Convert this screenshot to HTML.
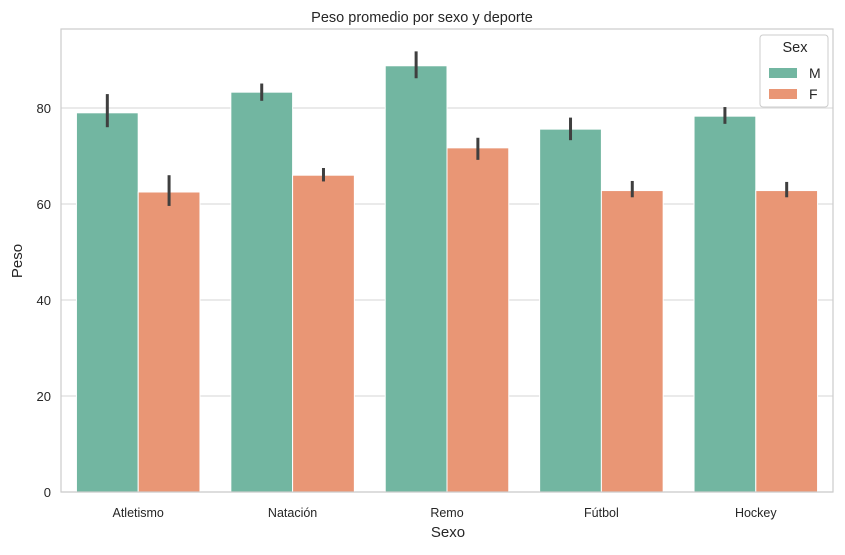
<!DOCTYPE html>
<html><head><meta charset="utf-8"><style>
body{margin:0;background:#fff;font-family:"Liberation Sans","DejaVu Sans",sans-serif}
</style></head><body>
<svg id="chart" width="845" height="550" xmlns="http://www.w3.org/2000/svg" font-family="Liberation Sans, DejaVu Sans, sans-serif">
<rect width="845" height="550" fill="#fff"/>
<g id="grid"></g>
<g id="bars"></g>
<rect x="61" y="29" width="772" height="463" fill="none" stroke="#cccccc" stroke-width="1.2"/>
<g id="labels"></g>
<text x="422" y="22" text-anchor="middle" font-size="14.5" fill="#262626">Peso promedio por sexo y deporte</text>
<text x="448" y="537" text-anchor="middle" font-size="15" fill="#262626">Sexo</text>
<text x="22" y="261" text-anchor="middle" font-size="15" fill="#262626" transform="rotate(-90 22 261)">Peso</text>
<g>
<rect x="760" y="35" width="68" height="72" rx="3" fill="#fff" fill-opacity="0.8" stroke="#cccccc"/>
<text x="795" y="52" text-anchor="middle" font-size="14.5" fill="#262626">Sex</text>
<g><rect x="769" y="68" width="28" height="10" fill="#72b6a1"/><text x="809" y="78" font-size="14" fill="#262626">M</text></g>
<g><rect x="769" y="89" width="28" height="10" fill="#e99675"/><text x="809" y="99" font-size="14" fill="#262626">F</text></g>
</g>
</svg>
<script>
const categories=["Atletismo","Natación","Remo","Fútbol","Hockey"];
const mValues=[79.0,83.3,88.8,75.6,78.3];
const fValues=[62.5,66.0,71.7,62.8,62.8];
const mLow=[76.0,81.5,86.2,73.3,76.7];
const mHigh=[82.9,85.1,91.8,78.0,80.2];
const fLow=[59.6,64.7,69.2,61.4,61.4];
const fHigh=[66.0,67.5,73.8,64.8,64.6];
const yTicks=[0,20,40,60,80];
const X0=61,X1=833,Y0=492,Y1=29,YMAX=96.46;
const ns="http://www.w3.org/2000/svg";
const y=v=>Y0-(v/YMAX)*(Y0-Y1);
const bw=(X1-X0)/categories.length;
const cx=i=>X0+bw*(i+0.5);
function mk(t,a,p){const e=document.createElementNS(ns,t);for(const k in a)e.setAttribute(k,a[k]);p.appendChild(e);return e;}
const G=document.getElementById('grid'),B=document.getElementById('bars'),L=document.getElementById('labels');
yTicks.forEach(v=>{
 const l=mk('line',{x1:X0,x2:X1,y1:y(v),y2:y(v),stroke:'#dddddd','stroke-width':1.2},G);
 
 
 const t=mk('text',{x:X0-10,y:y(v)+5,'text-anchor':'end','font-size':13,fill:'#262626'},L);
 t.textContent=v;
 
 
});
const w=bw*0.4;
categories.forEach((c,i)=>{
 [[mValues,mLow,mHigh,'#72b6a1',-1,'m'],[fValues,fLow,fHigh,'#e99675',0,'f']].forEach(([vals,lo,hi,col,off,s])=>{
  const x=cx(i)+off*w;
  const r=mk('rect',{x:x,y:y(vals[i]),width:w,height:Y0-y(vals[i]),fill:col,stroke:'#fff','stroke-width':1},B);
  
  
  const e=mk('line',{x1:x+w/2,x2:x+w/2,y1:y(lo[i]),y2:y(hi[i]),stroke:'#3f3f3f','stroke-width':3},B);
  
  
 });
 const t=mk('text',{x:cx(i),y:517,'text-anchor':'middle','font-size':12.5,fill:'#262626'},L);
 t.textContent=c;
 
 
});
</script>
</body></html>
